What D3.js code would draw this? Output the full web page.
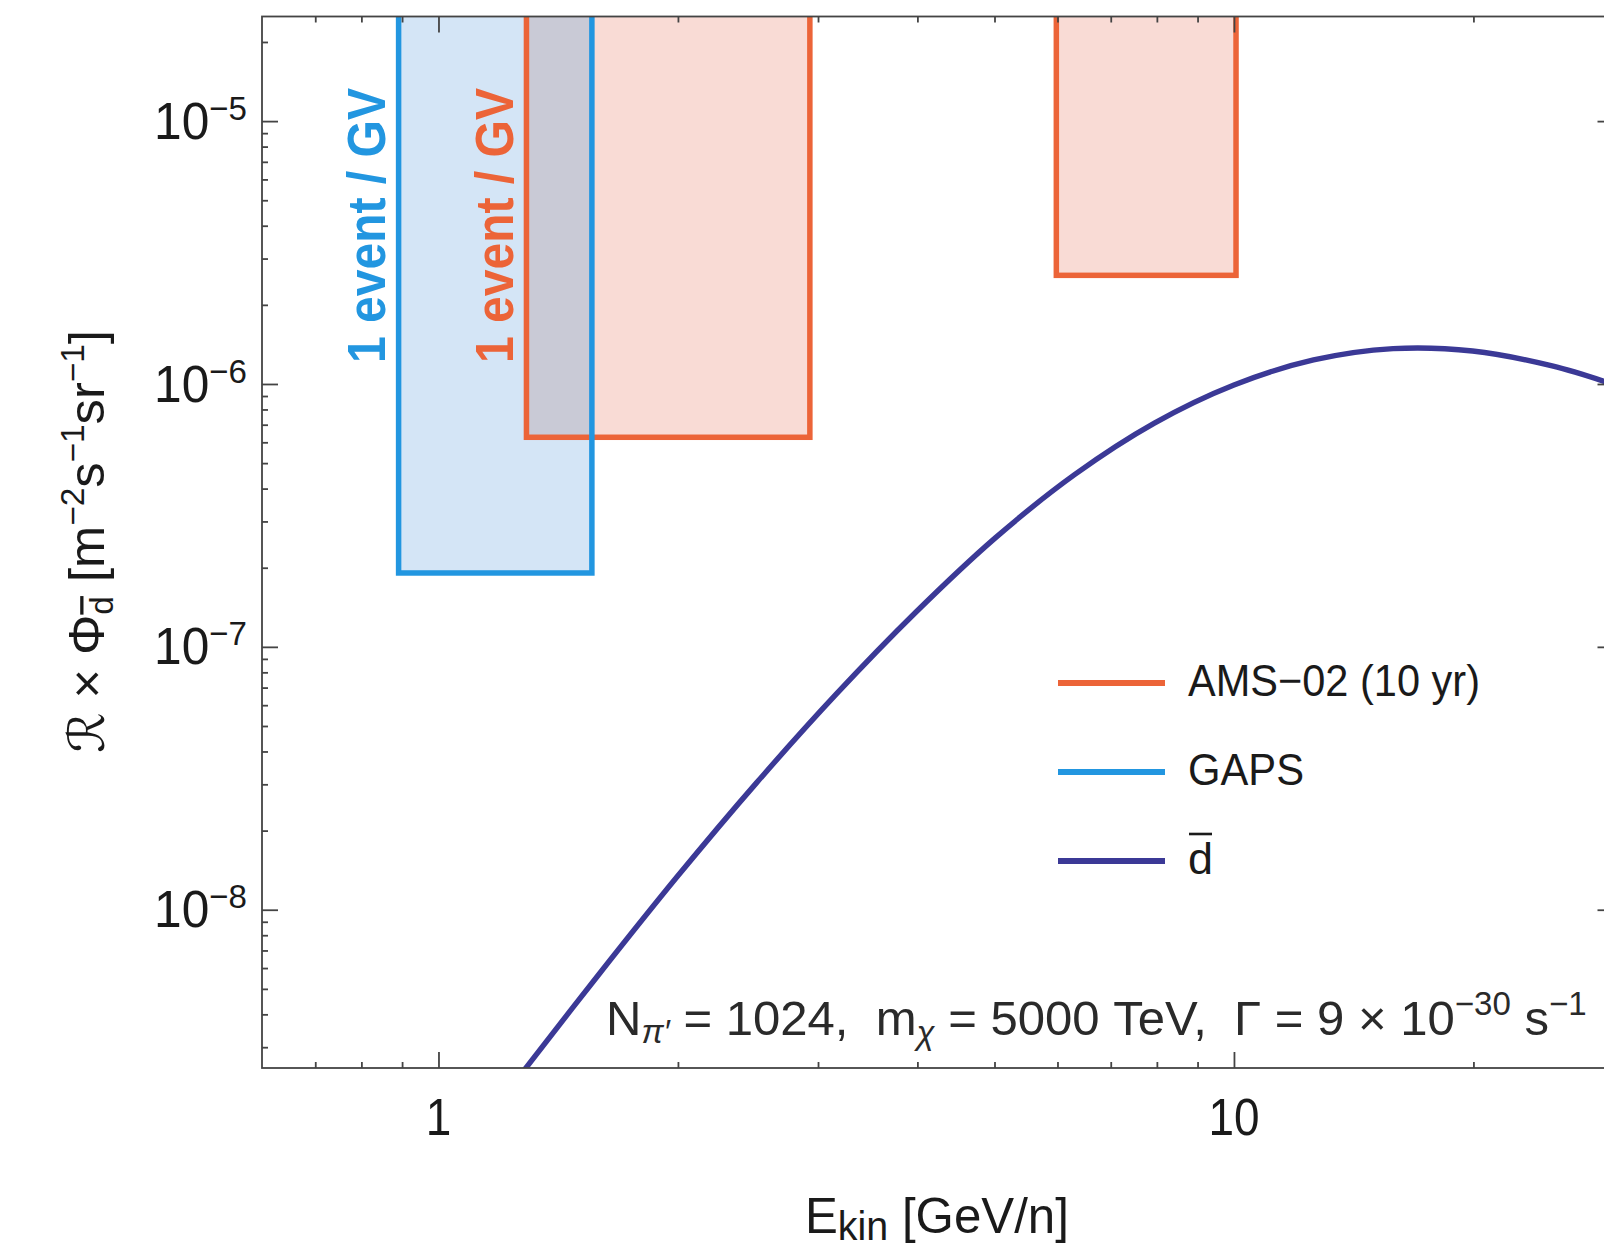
<!DOCTYPE html>
<html><head><meta charset="utf-8">
<script src="https://cdn.jsdelivr.net/npm/d3@7"></script>
<style>
body{margin:0;background:#fff}
svg{display:block}
text{font-family:"Liberation Sans",Arial,"DejaVu Sans",sans-serif;fill:#1a1a1a}
</style></head>
<body><svg id="c" width="1604" height="1249"></svg>
<script>
// ---------- data ----------
const energy = [1.2, 1.281, 1.585, 1.995, 2.512, 3.162, 3.981, 5.012, 6.31, 7.943, 10, 12.59, 15.85, 19.95, 25.12, 30];
const flux   = [1.895e-9, 2.449e-9, 5.598e-9, 1.334e-8, 3.045e-8, 6.607e-8, 1.354e-7, 2.598e-7, 4.53e-7, 7.099e-7, 9.913e-7, 1.234e-6, 1.363e-6, 1.335e-6, 1.171e-6, 9.959e-7];

const boxExperiment = ["AMS", "AMS", "GAPS"];
const boxE0 = [1.29, 5.98, 0.891];
const boxE1 = [2.93, 10.06, 1.559];
const boxFluxMin = [6.27e-7, 2.59e-6, 1.91e-7];
const boxFluxMax = [1e-4, 1e-4, 1e-4];

const xMajor = [1, 10];
const xMajorLabels = ["1", "10"];
const xMinor = [0.7, 0.8, 0.9, 2, 3, 4, 5, 6, 7, 8, 9, 20];
const yMajor = [1e-8, 1e-7, 1e-6, 1e-5];
const yMajorExp = ["\u22128", "\u22127", "\u22126", "\u22125"];
const yMinor = [];
[-9, -8, -7, -6, -5].forEach(k => { for (let m = 2; m <= 9; m++) { const v = m * Math.pow(10, k); if (v > 2.5e-9 && v < 2.5e-5) yMinor.push(v); } });

const legendLabels = ["AMS\u221202 (10 yr)", "GAPS", "d"];
const legendColors = ["#ec6438", "#2296e0", "#3b3996"];

// ---------- layout ----------
const svg = d3.select("#c");
const L = 262, R = 1613.5, T = 16.5, B = 1068;
const x = d3.scaleLog().domain([0.6, 30]).range([L, R]);
const y = d3.scaleLog().domain([2.5e-9, 2.5e-5]).range([B, T]);

const strokeCol = {AMS: "#ec6438", GAPS: "#2296e0"};
const fillCol = {AMS: "#f9dbd5", GAPS: "#d4e5f6"};

svg.append("defs").append("clipPath").attr("id", "clip")
  .append("rect").attr("x", L).attr("y", T).attr("width", R - L).attr("height", B - T);
const plot = svg.append("g").attr("clip-path", "url(#clip)");

const order = [0, 1, 2].sort((a, b) => (boxExperiment[a] === "GAPS") - (boxExperiment[b] === "GAPS"));

plot.selectAll("rect.fill").data(order).join("rect").attr("class", "fill")
  .attr("x", i => x(boxE0[i])).attr("y", i => y(boxFluxMax[i]))
  .attr("width", i => x(boxE1[i]) - x(boxE0[i]))
  .attr("height", i => y(boxFluxMin[i]) - y(boxFluxMax[i]))
  .attr("fill", i => fillCol[boxExperiment[i]]);

const overlaps = [];
order.forEach(i => order.forEach(j => {
  if (boxExperiment[i] === "AMS" && boxExperiment[j] === "GAPS") {
    const e0 = Math.max(boxE0[i], boxE0[j]), e1 = Math.min(boxE1[i], boxE1[j]);
    const f0 = Math.max(boxFluxMin[i], boxFluxMin[j]), f1 = Math.min(boxFluxMax[i], boxFluxMax[j]);
    if (e1 > e0 && f1 > f0) overlaps.push([e0, e1, f0, f1]);
  }
}));
plot.selectAll("rect.ov").data(overlaps).join("rect").attr("class", "ov")
  .attr("x", d => x(d[0])).attr("y", d => y(d[3]))
  .attr("width", d => x(d[1]) - x(d[0])).attr("height", d => y(d[2]) - y(d[3]))
  .attr("fill", "#c9cad6");

plot.selectAll("rect.edge").data(order).join("rect").attr("class", "edge")
  .attr("x", i => x(boxE0[i])).attr("y", i => y(boxFluxMax[i]))
  .attr("width", i => x(boxE1[i]) - x(boxE0[i]))
  .attr("height", i => y(boxFluxMin[i]) - y(boxFluxMax[i]))
  .attr("fill", "none").attr("stroke", i => strokeCol[boxExperiment[i]]).attr("stroke-width", 5.5);

plot.append("path").datum(d3.range(energy.length))
  .attr("d", d3.line().x(i => x(energy[i])).y(i => y(flux[i])).curve(d3.curveCatmullRom.alpha(0.5)))
  .attr("fill", "none").attr("stroke", "#3b3996").attr("stroke-width", 5.4);

// ---------- frame & ticks ----------
svg.append("rect").attr("x", L).attr("y", T).attr("width", R - L).attr("height", B - T)
  .attr("fill", "none").attr("stroke", "#444").attr("stroke-width", 1.8);

function ticks(axis, tr) {
  const g = svg.append("g").attr("transform", tr).attr("color", "#444").call(axis);
  g.select(".domain").remove();
  g.selectAll("line").attr("stroke-width", 1.8);
}
ticks(d3.axisBottom(x).tickValues(xMajor).tickSize(-16).tickFormat(""), `translate(0,${B})`);
ticks(d3.axisBottom(x).tickValues(xMinor).tickSize(-6).tickFormat(""), `translate(0,${B})`);
ticks(d3.axisTop(x).tickValues(xMajor).tickSize(-16).tickFormat(""), `translate(0,${T})`);
ticks(d3.axisTop(x).tickValues(xMinor).tickSize(-6).tickFormat(""), `translate(0,${T})`);
ticks(d3.axisLeft(y).tickValues(yMajor).tickSize(-16).tickFormat(""), `translate(${L},0)`);
ticks(d3.axisLeft(y).tickValues(yMinor).tickSize(-6).tickFormat(""), `translate(${L},0)`);
ticks(d3.axisRight(y).tickValues(yMajor).tickSize(-16).tickFormat(""), `translate(${R},0)`);
ticks(d3.axisRight(y).tickValues(yMinor).tickSize(-6).tickFormat(""), `translate(${R},0)`);

// ---------- rich text helper ----------
function rich(parts, opt) {
  const g = svg.append("g");
  const t = g.append("text").attr("x", 0).attr("y", 0).attr("xml:space", "preserve").style("white-space", "pre");
  if (opt.weight) t.style("font-weight", opt.weight);
  if (opt.fill) t.style("fill", opt.fill);
  if (opt.anchor) t.attr("text-anchor", opt.anchor);
  let cur = 0;
  parts.forEach(p => {
    const s = t.append("tspan").text(p[0]).style("font-size", p[1] + "px");
    const target = p[2] || 0;
    s.attr("dy", target - cur); cur = target;
    if (p[3]) s.style("font-style", p[3]);
    if (p[4]) s.style("text-decoration", p[4]);
  });
  const w = t.node().getComputedTextLength();
  const sx = opt.width ? opt.width / w : (opt.sx || 1);
  g.attr("transform", `translate(${opt.x},${opt.y}) rotate(${opt.rotate || 0}) scale(${sx},1)`);
  return t;
}

// y tick labels
yMajor.forEach((v, i) => rich([["10", 51], [yMajorExp[i], 34, -19]], {x: 247, y: y(v) + 17.6, anchor: "end", width: 93}));
// x tick labels
xMajor.forEach((v, i) => rich([[xMajorLabels[i], 51]], {x: x(v), y: 1135, anchor: "middle", sx: 0.9}));

// axis titles
rich([["E", 50], ["kin", 40, 7], [" [GeV/n]", 50, 0]], {x: 805, y: 1233, width: 264});
rich([["\u211B \u00D7 \u03A6", 50], ["d", 33, 9, null, "overline"], [" [m", 50, 0], ["\u22122", 33, -20], ["s", 50, 0],
      ["\u22121", 33, -20], ["sr", 50, 0], ["\u22121", 33, -20], ["]", 50, 0]],
     {x: 104, y: 753, rotate: -90, width: 423});

// event labels
rich([["1 event / GV", 54]], {x: 384.6, y: 363, rotate: -90, width: 275, weight: "bold", fill: "#2296e0"});
rich([["1 event / GV", 54]], {x: 512.8, y: 363, rotate: -90, width: 275, weight: "bold", fill: "#ec6438"});

// annotation
rich([["N", 49], ["\u03C0\u2032", 33, 8, "italic"], [" = 1024,  m", 49, 0], ["\u03C7", 33, 9, "italic"],
      [" = 5000 TeV,  \u0393 = 9 \u00D7 10", 49, 0], ["\u221230", 33, -20], [" s", 49, 0], ["\u22121", 33, -20]],
     {x: 606, y: 1035, width: 981, fill: "#2a2a2a"});

// legend
const legY = [683, 772, 861];
legendLabels.forEach((lab, i) => {
  svg.append("line").attr("x1", 1058).attr("x2", 1165).attr("y1", legY[i]).attr("y2", legY[i])
    .attr("stroke", legendColors[i]).attr("stroke-width", 6);
  const t = rich([[lab, 45]], {x: 1188, y: legY[i] + 13, width: i === 0 ? 292 : (i === 1 ? 116 : null)});
  if (i === 2) {
    const bb = t.node().getBBox();
    svg.append("line").attr("x1", 1188 + bb.x + 1).attr("x2", 1188 + bb.x + bb.width - 1)
      .attr("y1", legY[i] + 13 - 40).attr("y2", legY[i] + 13 - 40)
      .attr("stroke", "#1a1a1a").attr("stroke-width", 2.6);
  }
});
</script></body></html>
